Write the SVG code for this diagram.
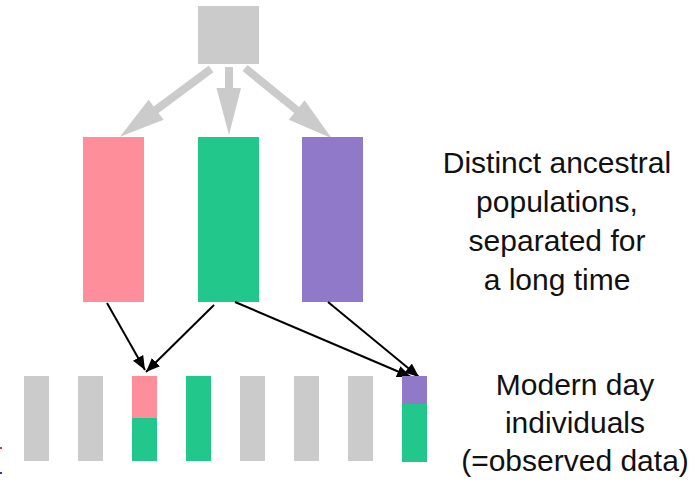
<svg xmlns="http://www.w3.org/2000/svg" width="697" height="484" viewBox="0 0 697 484">
<style>
.g{fill:#cbcbcb}
.p{fill:#ff8e9b}
.gr{fill:#21c78b}
.pu{fill:#9079c9}
.t{font-family:"Liberation Sans",Arial,sans-serif;font-size:30px;fill:#111;text-anchor:middle}
.c{stroke:#000;stroke-width:2;fill:none;marker-end:url(#ah)}
</style>
<defs>
<marker id="ah" markerUnits="userSpaceOnUse" markerWidth="14" markerHeight="12" refX="12" refY="5" orient="auto" viewBox="0 0 12 10">
<path d="M0,0 L12,5 L0,10 Z" fill="#000"/>
</marker>
</defs>
<rect width="697" height="484" fill="#fff"/>
<g id="root"><rect class="g" x="198" y="6" width="61" height="58"/></g>
<g id="gray-arrows">
<polygon class="g" points="208.6,65.8 153.7,106.6 148.6,99.8 120,136.7 163.6,119.8 158.5,113 213.4,72.2"/>
<polygon class="g" points="225,67 233,67 233,88 241,88 229,135 216.5,88 225,88"/>
<polygon class="g" points="247.5,64.9 299.2,106.9 304.6,100.3 331.7,138.3 288.8,119.7 294.2,113.1 242.5,71.1"/>
</g>
<g id="pop-pink"><rect class="p" x="83" y="137" width="61" height="165"/></g>
<g id="pop-green"><rect class="gr" x="198" y="137" width="61" height="165"/></g>
<g id="pop-purple"><rect class="pu" x="302" y="137" width="61" height="165"/></g>
<g id="connectors">
<line class="c" x1="107" y1="303" x2="145" y2="370"/>
<line class="c" x1="214" y1="305" x2="146" y2="372"/>
<line class="c" x1="235" y1="302" x2="411" y2="377"/>
<line class="c" x1="328" y1="302" x2="419" y2="377"/>
</g>
<g id="ind1"><rect class="g" x="24" y="376" width="25" height="85"/></g>
<g id="ind2"><rect class="g" x="78" y="376" width="25" height="85"/></g>
<g id="ind3"><rect class="p" x="132" y="376" width="25" height="42"/><rect class="gr" x="132" y="418" width="25" height="43"/></g>
<g id="ind4"><rect class="gr" x="186" y="376" width="25" height="85"/></g>
<g id="ind5"><rect class="g" x="240" y="376" width="25" height="85"/></g>
<g id="ind6"><rect class="g" x="294" y="376" width="25" height="85"/></g>
<g id="ind7"><rect class="g" x="348" y="376" width="25" height="85"/></g>
<g id="ind8"><rect class="pu" x="402" y="376" width="25" height="28"/><rect class="gr" x="402" y="404" width="25" height="58"/></g>
<g id="label-ancestral">
<text class="t" x="557" y="173">Distinct ancestral</text>
<text class="t" x="557" y="212">populations,</text>
<text class="t" x="557" y="251">separated for</text>
<text class="t" x="557" y="290">a long time</text>
</g>
<g id="label-modern">
<text class="t" x="575" y="395">Modern day</text>
<text class="t" x="575" y="433">individuals</text>
<text class="t" x="575" y="471">(=observed data)</text>
</g>
<rect x="0" y="447" width="2" height="2" fill="#e03030"/>
<rect x="0" y="472" width="2" height="2" fill="#3030d0"/>
</svg>
